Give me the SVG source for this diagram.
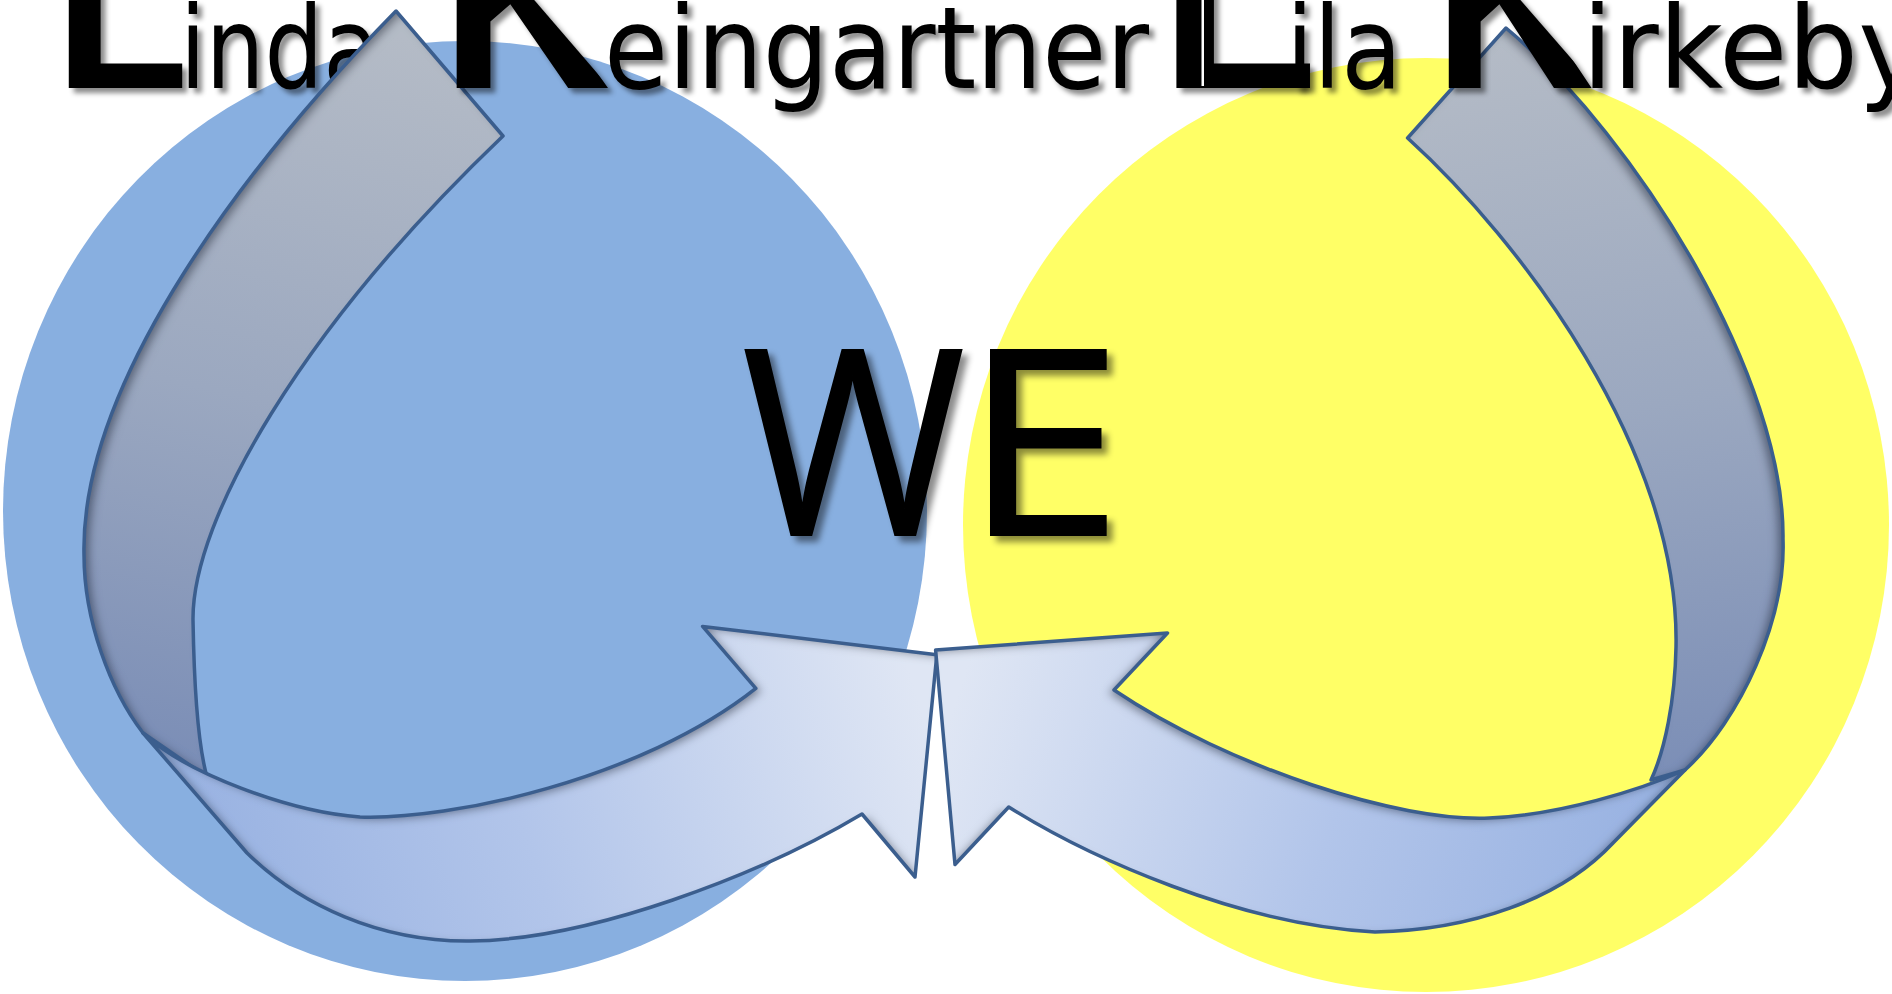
<svg xmlns="http://www.w3.org/2000/svg" width="1892" height="994" viewBox="0 0 1892 994">
  <defs>
    <style>
      .name{font-family:"DejaVu Sans",Verdana,sans-serif;font-size:114px;fill:#000}
      .cap{font-family:"Liberation Sans",Arial,sans-serif;font-weight:bold;font-size:221px;fill:#000}
      .we{font-family:"Open Sans","DejaVu Sans",sans-serif;font-size:259px;fill:#000;stroke:#000;stroke-width:2}
      .edge{fill:none;stroke:#3b5e8e;stroke-width:3.5;stroke-linejoin:round}
    </style>
    <filter id="textShadow" x="-10%" y="-20%" width="130%" height="150%">
      <feDropShadow dx="5" dy="5" stdDeviation="2.5" flood-color="#000" flood-opacity="0.45"/>
    </filter>
    <filter id="weShadow" x="-10%" y="-10%" width="130%" height="130%">
      <feDropShadow dx="6" dy="6" stdDeviation="3" flood-color="#000" flood-opacity="0.45"/>
    </filter>
    <!-- inner shadows: left-hand ribbon lit from the left, right-hand one mirrored -->
    <filter id="innerL" x="-5%" y="-5%" width="110%" height="110%">
      <feComponentTransfer in="SourceAlpha" result="inv"><feFuncA type="table" tableValues="1 0"/></feComponentTransfer>
      <feOffset in="inv" dx="6" dy="3" result="off"/>
      <feGaussianBlur in="off" stdDeviation="4.5" result="blur"/>
      <feFlood flood-color="#1c2b45" flood-opacity="0.7"/>
      <feComposite in2="blur" operator="in" result="sh"/>
      <feComposite in="sh" in2="SourceAlpha" operator="in" result="inner"/>
      <feMerge><feMergeNode in="SourceGraphic"/><feMergeNode in="inner"/></feMerge>
    </filter>
    <filter id="innerR" x="-5%" y="-5%" width="110%" height="110%">
      <feComponentTransfer in="SourceAlpha" result="inv"><feFuncA type="table" tableValues="1 0"/></feComponentTransfer>
      <feOffset in="inv" dx="-6" dy="3" result="off"/>
      <feGaussianBlur in="off" stdDeviation="4.5" result="blur"/>
      <feFlood flood-color="#1c2b45" flood-opacity="0.7"/>
      <feComposite in2="blur" operator="in" result="sh"/>
      <feComposite in="sh" in2="SourceAlpha" operator="in" result="inner"/>
      <feMerge><feMergeNode in="SourceGraphic"/><feMergeNode in="inner"/></feMerge>
    </filter>
    <linearGradient id="gBackL" gradientUnits="userSpaceOnUse" x1="320" y1="20" x2="160" y2="770">
      <stop offset="0" stop-color="#b4bbc6"/>
      <stop offset="0.5" stop-color="#9ba8c0"/>
      <stop offset="1" stop-color="#7a8db6"/>
    </linearGradient>
    <linearGradient id="gBackR" gradientUnits="userSpaceOnUse" x1="1560" y1="30" x2="1700" y2="790">
      <stop offset="0" stop-color="#b4bbc6"/>
      <stop offset="0.5" stop-color="#9ba8c0"/>
      <stop offset="1" stop-color="#7a8db6"/>
    </linearGradient>
    <linearGradient id="gFrontL" gradientUnits="userSpaceOnUse" x1="180" y1="860" x2="900" y2="640">
      <stop offset="0" stop-color="#97b1e1"/>
      <stop offset="0.45" stop-color="#b2c5ea"/>
      <stop offset="1" stop-color="#dfe6f4"/>
    </linearGradient>
    <linearGradient id="gFrontR" gradientUnits="userSpaceOnUse" x1="1660" y1="860" x2="975" y2="640">
      <stop offset="0" stop-color="#97b1e1"/>
      <stop offset="0.45" stop-color="#b2c5ea"/>
      <stop offset="1" stop-color="#dfe6f4"/>
    </linearGradient>
    <!-- the tall initials K only show stem and lower leg; the upper arm runs off the top -->
    <clipPath id="clipK1">
      <polygon points="420,-20 517,-20 616,95 420,95"/>
    </clipPath>
    <clipPath id="clipK2">
      <polygon points="1410,-20 1503,-20 1603,95 1410,95"/>
    </clipPath>
    <!-- ribbon outlines: each curved arrow is a folded-back tail piece plus a front piece with the head -->
    <path id="backL" d="M396,11 C250,160 80,380 84,555 C84,620 110,690 143,733 L207,777 C198,745 194,680 193,620 C192,520 300,330 503,136 Z"/>
    <path id="frontL" d="M143,733 C185,773 290,812 360,817 C450,820 640,780 755.8,688.4 L702.6,626.4 L936.8,654.8 L915,877 L862,814 C760,875 590,940 470,941 C380,942 300,905 247,853 Z"/>
    <path id="backR" d="M1506,28 C1640,140 1785,380 1783,539 C1786,620 1740,720 1685,770 L1651,780 C1665,750 1675,700 1676,647 C1680,450 1520,240 1407.6,138 Z"/>
    <path id="frontR" d="M1685,770 C1640,790 1560,815 1489,818 C1400,822 1230,768 1114,690 L1167.5,633 L935.6,650 L955,864.5 L1008.7,807 C1090,858 1240,925 1375,932 C1470,930 1560,900 1613,843 Z"/>
  </defs>

  <rect width="1892" height="994" fill="#fff"/>

  <g id="circle-linda">
    <ellipse cx="465" cy="511" rx="462" ry="470" fill="#88afe0"/>
  </g>
  <g id="circle-lila">
    <ellipse cx="1426" cy="525" rx="463" ry="467" fill="#ffff66"/>
  </g>

  <!-- name lines, small letters -->
  <g id="names" filter="url(#textShadow)">
    <text class="name" x="180" y="88" textLength="200" lengthAdjust="spacingAndGlyphs">inda</text>
    <text class="name" x="604" y="88" textLength="545" lengthAdjust="spacingAndGlyphs">eingartner</text>
    <text class="name" x="1286" y="88" textLength="116" lengthAdjust="spacingAndGlyphs">ila</text>
    <text class="name" x="1582" y="88" textLength="342" lengthAdjust="spacingAndGlyphs">irkeby</text>
  </g>

  <!-- curved arrows -->
  <g id="connectors">
    <g id="arrow-linda">
      <use href="#backL" fill="url(#gBackL)" filter="url(#innerL)"/>
      <use href="#backL" class="edge"/>
      <use href="#frontL" fill="url(#gFrontL)" filter="url(#innerL)"/>
      <use href="#frontL" class="edge"/>
    </g>
    <g id="arrow-lila">
      <use href="#backR" fill="url(#gBackR)" filter="url(#innerR)"/>
      <use href="#backR" class="edge"/>
      <use href="#frontR" fill="url(#gFrontR)" filter="url(#innerR)"/>
      <use href="#frontR" class="edge"/>
    </g>
  </g>

  <!-- large initials -->
  <g id="initials" filter="url(#textShadow)">
    <text class="cap" x="54" y="88">L</text>
    <g clip-path="url(#clipK1)">
      <text class="cap" transform="translate(441,88) scale(1.06,1.2)">K</text>
    </g>
    <text class="cap" x="1159" y="88" textLength="159" lengthAdjust="spacingAndGlyphs">L</text>
    <g clip-path="url(#clipK2)">
      <text class="cap" transform="translate(1434,88) scale(1.0,1.2)">K</text>
    </g>
  </g>
  <rect x="1201.5" y="0" width="2.5" height="86" fill="#fff"/>

  <g id="we-label" filter="url(#weShadow)">
    <text class="we" x="742" y="535" textLength="223" lengthAdjust="spacingAndGlyphs">W</text>
    <text class="we" x="963" y="535" textLength="160" lengthAdjust="spacingAndGlyphs">E</text>
  </g>
</svg>
